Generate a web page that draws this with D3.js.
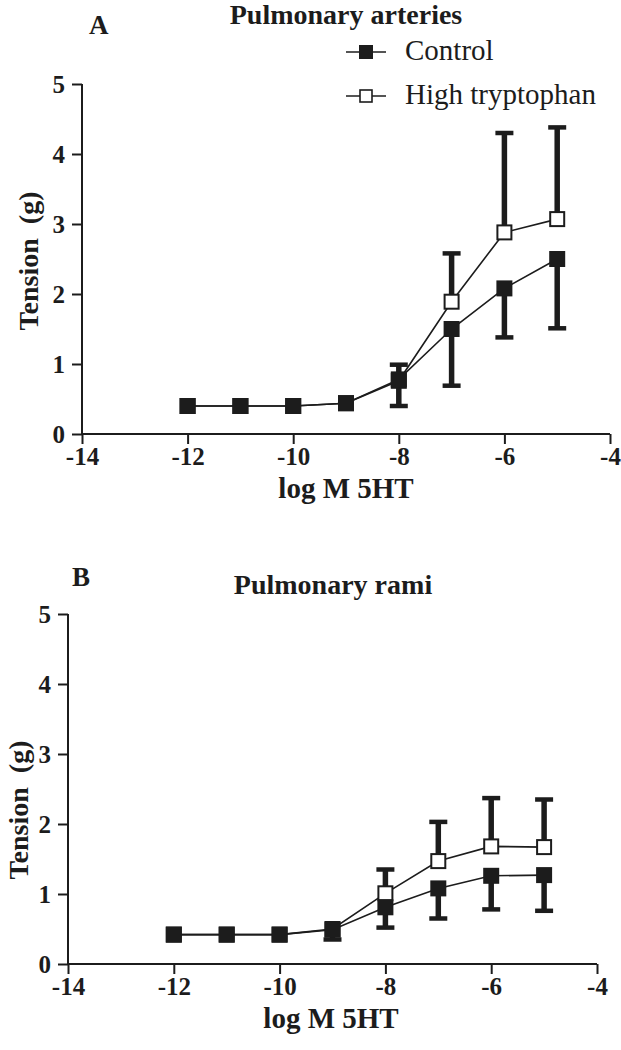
<!DOCTYPE html>
<html><head><meta charset="utf-8">
<script src="https://cdn.jsdelivr.net/npm/d3@7"></script>
<style>body{margin:0;background:#fff}svg{display:block}</style>
</head><body>
<script>
const doses = [-12, -11, -10, -9, -8, -7, -6, -5];
const xTicks = [-14, -12, -10, -8, -6, -4];
const yTicks = [0, 1, 2, 3, 4, 5];
const seriesNames = ["Control", "High tryptophan"];

// Panel A: Pulmonary arteries
const aControl = [0.40, 0.40, 0.40, 0.44, 0.78, 1.50, 2.08, 2.50];
const aControlLow = [null, null, null, null, 0.40, 0.69, 1.38, 1.51];
const aHigh = [0.40, 0.40, 0.40, 0.44, 0.76, 1.89, 2.88, 3.07];
const aHighUp = [null, null, null, null, 0.99, 2.58, 4.30, 4.38];

// Panel B: Pulmonary rami
const bControl = [0.42, 0.42, 0.42, 0.49, 0.81, 1.08, 1.26, 1.27];
const bControlLow = [null, null, null, 0.35, 0.52, 0.65, 0.78, 0.76];
const bHigh = [0.42, 0.42, 0.42, 0.50, 1.01, 1.47, 1.68, 1.67];
const bHighUp = [null, null, null, null, 1.35, 2.03, 2.37, 2.35];

const W = 621, H = 1050;
const svg = d3.select("body").append("svg").attr("width", W).attr("height", H);
const ink = "#1c1c1c";
const serif = "'Liberation Serif','Times New Roman',serif";

function panel(cfg) {
  const x = d3.scaleLinear().domain([-14, -4]).range([cfg.x0, cfg.x1]);
  const y = d3.scaleLinear().domain([0, 5]).range([cfg.y0, cfg.y5]);
  const g = svg.append("g");

  const xa = g.append("g").attr("transform", `translate(0,${cfg.y0})`)
    .call(d3.axisBottom(x).tickValues(xTicks).tickSize(10).tickPadding(3).tickFormat(d => String(d)));
  const ya = g.append("g").attr("transform", `translate(${cfg.x0},0)`)
    .call(d3.axisLeft(y).tickValues(yTicks).tickSize(10).tickPadding(7).tickFormat(d => String(d)));
  [xa, ya].forEach(a => {
    a.select(".domain").attr("stroke", ink).attr("stroke-width", 2);
    a.selectAll(".tick line").attr("stroke", ink).attr("stroke-width", 2);
    a.selectAll("text").attr("fill", ink).attr("font-family", serif)
      .attr("font-weight", "bold").attr("font-size", 25);
  });
  xa.selectAll(".domain").attr("d", `M${cfg.x0},0H${cfg.x1}`);
  ya.selectAll(".domain").attr("d", `M0,${cfg.y0}V${cfg.y5}`);

  // titles
  g.append("text").attr("x", cfg.letterX).attr("y", cfg.letterY).text(cfg.letter)
    .attr("font-family", serif).attr("font-weight", "bold").attr("font-size", 27).attr("fill", ink);
  g.append("text").attr("x", cfg.titleX).attr("y", cfg.titleY).text(cfg.title)
    .attr("text-anchor", "middle").attr("font-family", serif).attr("font-weight", "bold")
    .attr("font-size", 28).attr("fill", ink);
  g.append("text").attr("x", cfg.xlabX).attr("y", cfg.y0 + 64).text("log M 5HT")
    .attr("text-anchor", "middle").attr("font-family", serif).attr("font-weight", "bold")
    .attr("font-size", 29).attr("fill", ink);
  g.append("text").attr("transform", `translate(${cfg.ylabX},${cfg.ylabY}) rotate(-90)`)
    .text("Tension\u00a0\u00a0(g)").attr("text-anchor", "middle").attr("font-family", serif)
    .attr("font-weight", "bold").attr("font-size", 28).attr("fill", ink);

  const line = d3.line().x((d, i) => x(doses[i])).y(d => y(d));
  g.append("path").datum(cfg.high).attr("d", line).attr("fill", "none").attr("stroke", ink).attr("stroke-width", 1.6);
  g.append("path").datum(cfg.ctrl).attr("d", line).attr("fill", "none").attr("stroke", ink).attr("stroke-width", 1.6);

  const cap = 9;
  function bars(vals, ends) {
    const idx = doses.map((d, i) => i).filter(i => ends[i] != null);
    g.selectAll(null).data(idx).enter().append("line")
      .attr("x1", i => x(doses[i])).attr("x2", i => x(doses[i]))
      .attr("y1", i => y(vals[i])).attr("y2", i => y(ends[i]))
      .attr("stroke", ink).attr("stroke-width", 5.5);
    g.selectAll(null).data(idx).enter().append("line")
      .attr("x1", i => x(doses[i]) - cap).attr("x2", i => x(doses[i]) + cap)
      .attr("y1", i => y(ends[i])).attr("y2", i => y(ends[i]))
      .attr("stroke", ink).attr("stroke-width", 4.5);
  }
  bars(cfg.high, cfg.highUp);
  bars(cfg.ctrl, cfg.ctrlLow);

  const s = 16;
  g.selectAll(null).data(cfg.high).enter().append("rect")
    .attr("x", (d, i) => x(doses[i]) - s / 2 + 1).attr("y", d => y(d) - s / 2 + 1)
    .attr("width", s - 2).attr("height", s - 2)
    .attr("fill", "#fff").attr("stroke", ink).attr("stroke-width", 2);
  g.selectAll(null).data(cfg.ctrl).enter().append("rect")
    .attr("x", (d, i) => x(doses[i]) - s / 2).attr("y", d => y(d) - s / 2)
    .attr("width", s).attr("height", s).attr("fill", ink);

  if (cfg.legend) {
    const lx = 346, lx2 = 386;
    [[seriesNames[0], 52, true], [seriesNames[1], 96, false]].forEach(([name, ly, filled]) => {
      g.append("line").attr("x1", lx).attr("x2", lx2).attr("y1", ly).attr("y2", ly)
        .attr("stroke", ink).attr("stroke-width", 1.6);
      if (filled) {
        g.append("rect").attr("x", (lx + lx2) / 2 - 7).attr("y", ly - 7).attr("width", 14).attr("height", 14).attr("fill", ink);
      } else {
        g.append("rect").attr("x", (lx + lx2) / 2 - 6).attr("y", ly - 6).attr("width", 12).attr("height", 12)
          .attr("fill", "#fff").attr("stroke", ink).attr("stroke-width", 1.6);
      }
      g.append("text").attr("x", 405).attr("y", ly + 8).text(name)
        .attr("font-family", serif).attr("font-size", 29).attr("fill", ink);
    });
  }
}

panel({x0: 82, x1: 610, y0: 434, y5: 84, letter: "A", letterX: 89, letterY: 34,
  title: "Pulmonary arteries", titleX: 346, titleY: 24, xlabX: 346, ylabX: 38, ylabY: 261,
  ctrl: aControl, ctrlLow: aControlLow, high: aHigh, highUp: aHighUp, legend: true});
panel({x0: 68, x1: 597, y0: 964, y5: 614, letter: "B", letterX: 72, letterY: 586,
  title: "Pulmonary rami", titleX: 333, titleY: 594, xlabX: 331, ylabX: 28, ylabY: 810,
  ctrl: bControl, ctrlLow: bControlLow, high: bHigh, highUp: bHighUp, legend: false});
</script>
</body></html>
